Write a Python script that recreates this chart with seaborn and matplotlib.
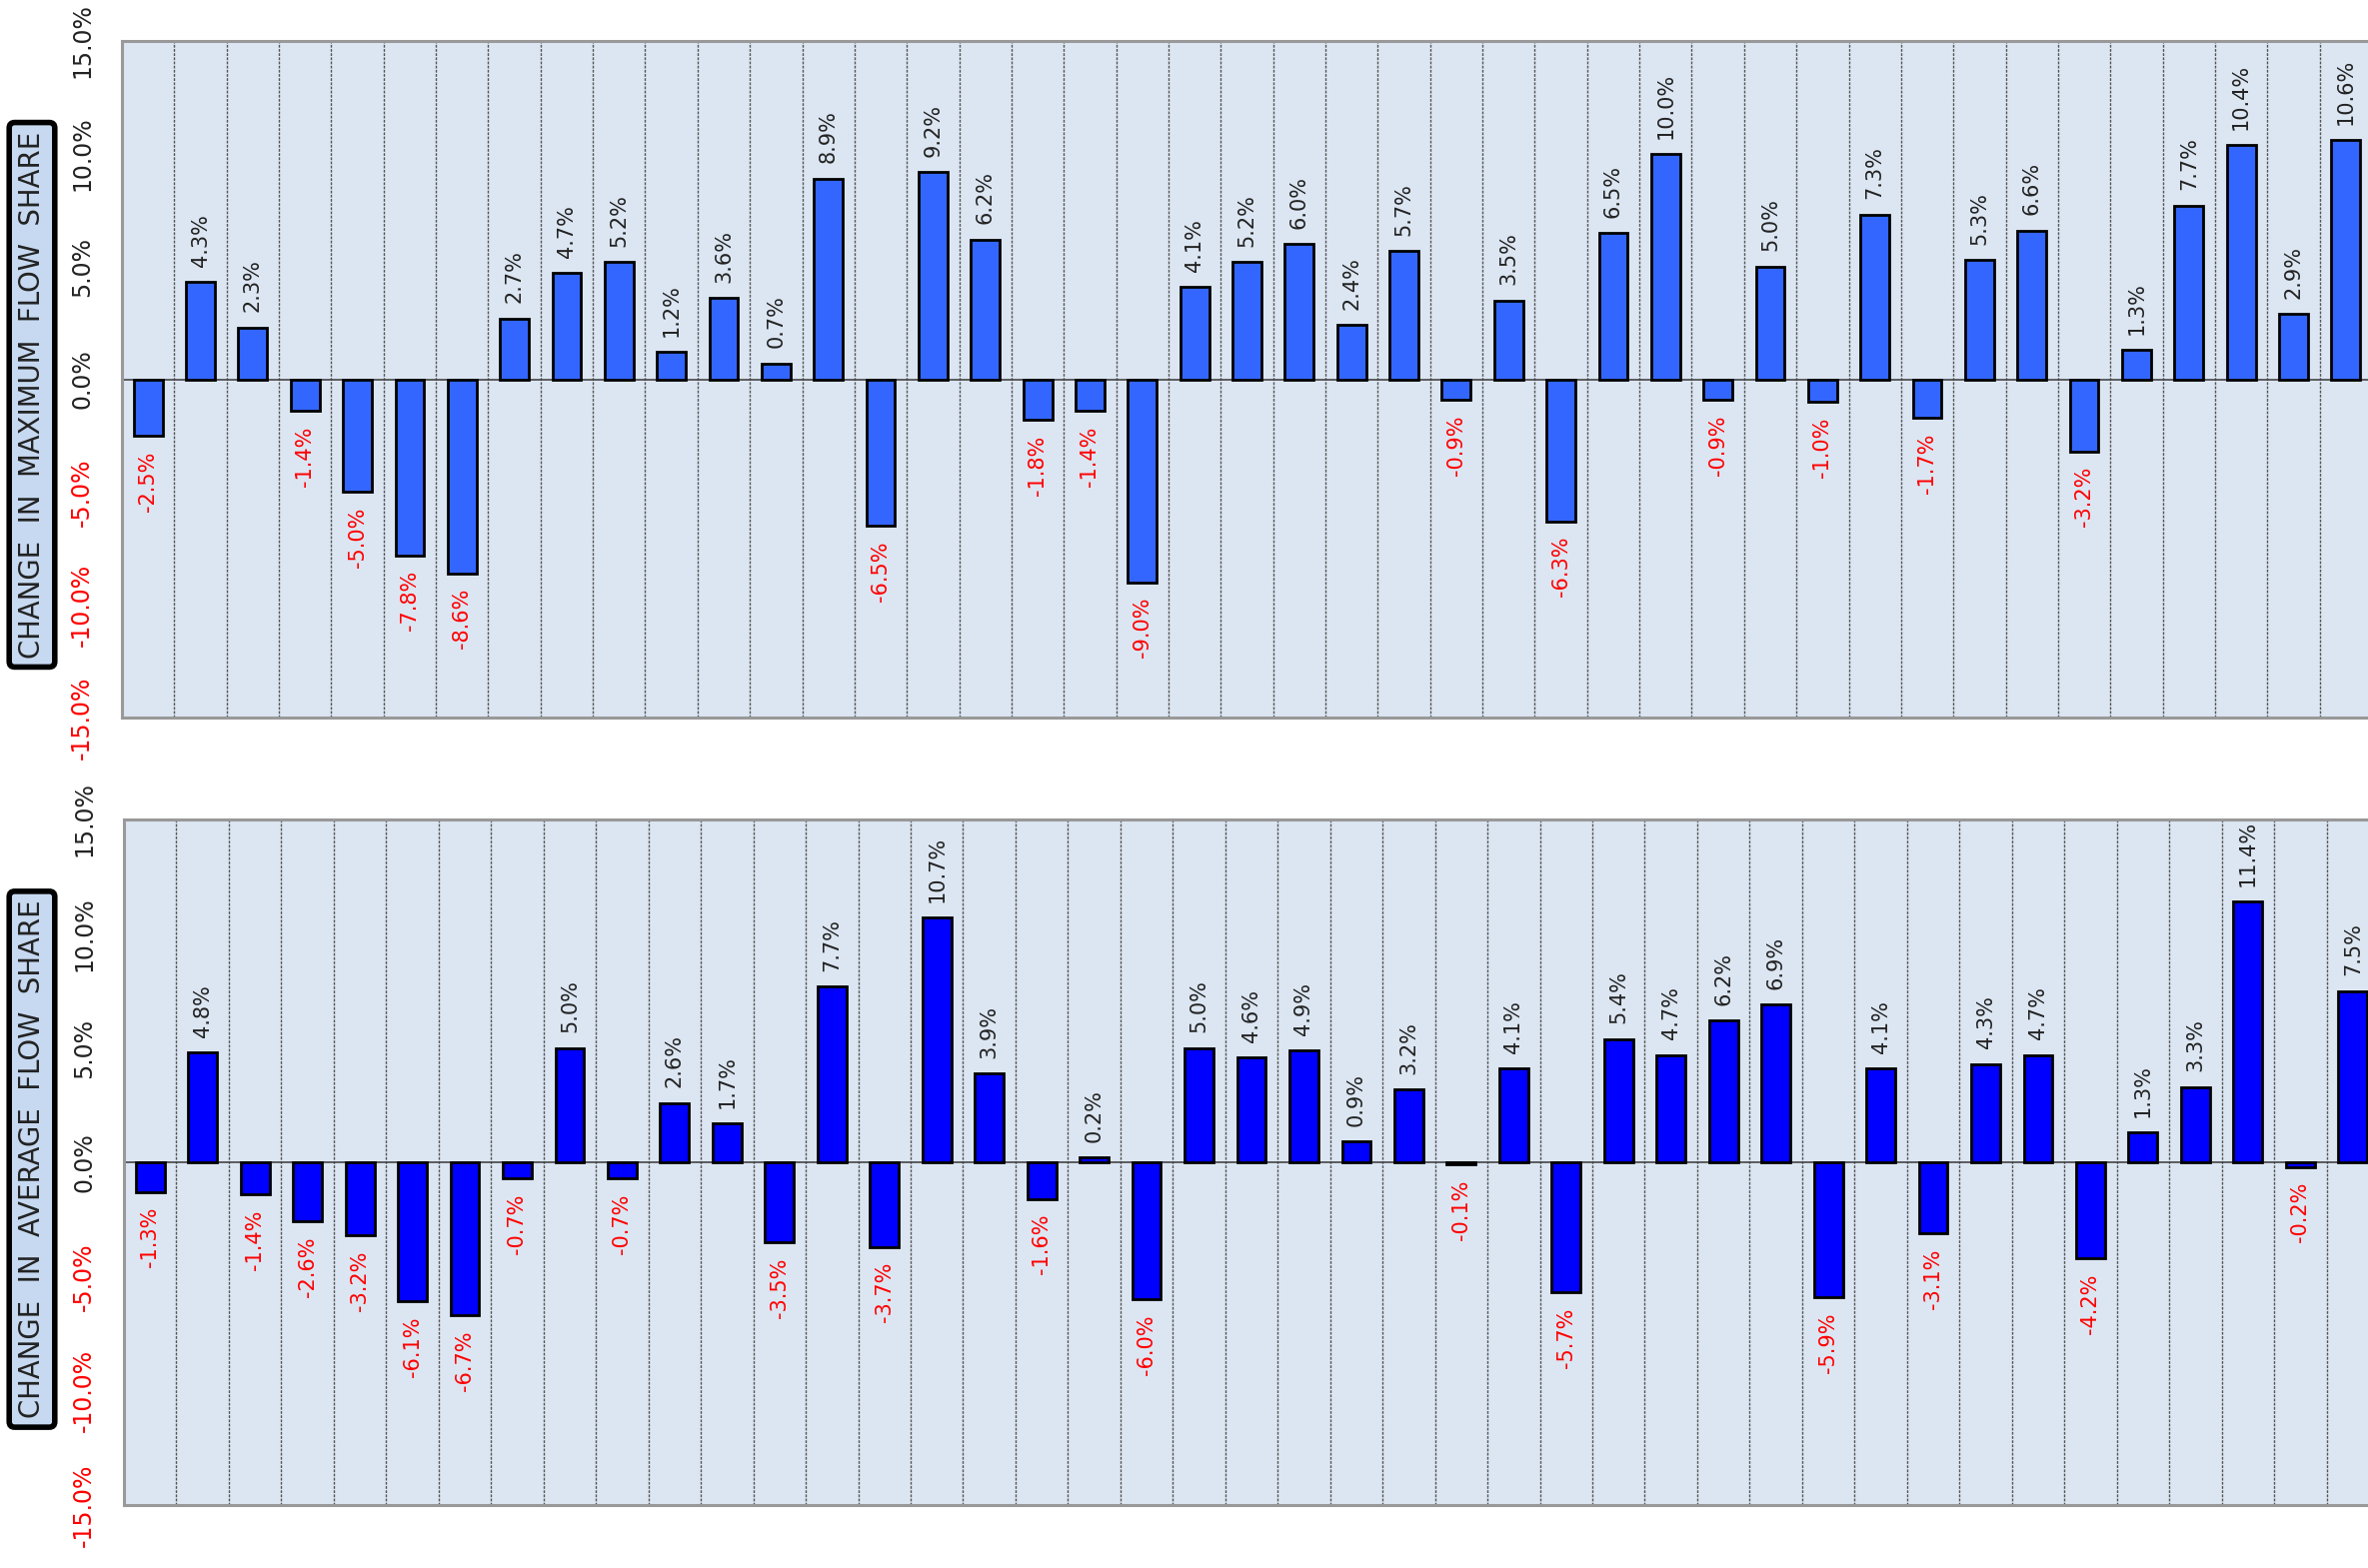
import numpy as np
import pandas as pd
import seaborn as sns
from matplotlib import pyplot as plt

# values (percent)
max_flow_change = [-2.5, 4.3, 2.3, -1.4, -5.0, -7.8, -8.6, 2.7, 4.7, 5.2, 1.2, 3.6, 0.7, 8.9,
                   -6.5, 9.2, 6.2, -1.8, -1.4, -9.0, 4.1, 5.2, 6.0, 2.4, 5.7, -0.9, 3.5, -6.3,
                   6.5, 10.0, -0.9, 5.0, -1.0, 7.3, -1.7, 5.3, 6.6, -3.2, 1.3, 7.7, 10.4, 2.9, 10.6]
avg_flow_change = [-1.3, 4.8, -1.4, -2.6, -3.2, -6.1, -6.7, -0.7, 5.0, -0.7, 2.6, 1.7, -3.5, 7.7,
                   -3.7, 10.7, 3.9, -1.6, 0.2, -6.0, 5.0, 4.6, 4.9, 0.9, 3.2, -0.1, 4.1, -5.7,
                   5.4, 4.7, 6.2, 6.9, -5.9, 4.1, -3.1, 4.3, 4.7, -4.2, 1.3, 3.3, 11.4, -0.2, 7.5]
y_ticks = [-15, -10, -5, 0, 5, 10, 15]
top_title = "CHANGE  IN  MAXIMUM  FLOW  SHARE"
bottom_title = "CHANGE  IN  AVERAGE  FLOW  SHARE"

sns.set_style("white")
plt.rcParams['font.family'] = ['DejaVu Sans']

W, H = 2369, 1569
fig = plt.figure(figsize=(W / 100, H / 100), dpi=100)


def draw_panel(ax, values, bar_color):
    df = pd.DataFrame({'idx': range(len(values)), 'val': values})
    sns.barplot(data=df, x='idx', y='val', color=bar_color, saturation=1, width=0.55,
                edgecolor='black', linewidth=2, ax=ax, zorder=3)
    n = len(values)
    ax.set_xlim(-0.5, n - 0.5)
    ax.set_ylim(-15, 15)
    ax.set_facecolor('#dce6f2')
    for k in np.arange(0.5, n - 0.5, 1):
        ax.axvline(k, color='#555555', lw=1, ls=(0, (2, 1)), zorder=1)
    ax.axhline(0, color='#444444', lw=1.2, zorder=2)
    ax.set_xticks([])
    ax.set_xlabel('')
    ax.set_ylabel('')
    ax.set_yticks(y_ticks)
    ax.set_yticklabels(["%.1f%%" % t for t in y_ticks], rotation=90, va='center')
    for lab, t in zip(ax.get_yticklabels(), y_ticks):
        lab.set_color('red' if t < 0 else '#222222')
    ax.tick_params(axis='y', length=0, pad=20, labelsize=17)
    for s in ax.spines.values():
        s.set_color('#999999')
        s.set_linewidth(2.2)
    for i, v in enumerate(values):
        if v >= 0:
            ax.annotate("%.1f%%" % v, (i, v), xytext=(0, 11), textcoords='offset points',
                        rotation=90, ha='center', va='bottom', fontsize=15, color='#222222')
        else:
            ax.annotate("%.1f%%" % v, (i, v), xytext=(0, -11), textcoords='offset points',
                        rotation=90, ha='center', va='top', fontsize=15, color='red')


ax1 = fig.add_axes([122 / W, 1 - 718 / H, 2251 / W, 677 / H])
draw_panel(ax1, max_flow_change, '#3366ff')
ax2 = fig.add_axes([124 / W, 1 - 1506 / H, 2256 / W, 686 / H])
draw_panel(ax2, avg_flow_change, '#0000ff')

box = dict(boxstyle='round,pad=0.32,rounding_size=0.2', facecolor='#c6d9f1',
           edgecolor='black', linewidth=4)
fig.text(32 / W, 1 - 395 / H, top_title, rotation=90, ha='center', va='center',
         fontsize=19.8, color='#222222', bbox=box)
fig.text(32 / W, 1 - 1160 / H, bottom_title, rotation=90, ha='center', va='center',
         fontsize=19.8, color='#222222', bbox=box)

plt.savefig('out.png', dpi=100)
